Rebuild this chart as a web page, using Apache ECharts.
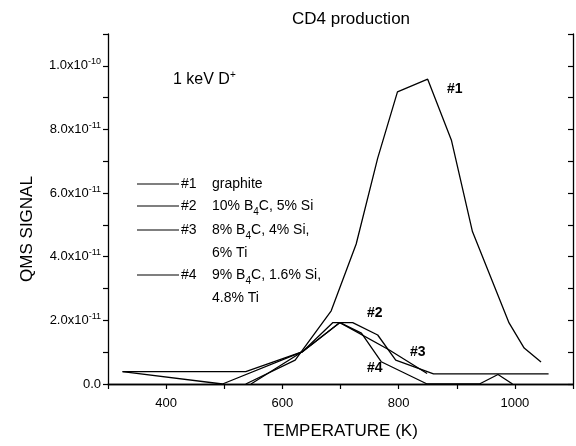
<!DOCTYPE html>
<html>
<head>
<meta charset="utf-8">
<script src="https://cdn.jsdelivr.net/npm/echarts@6/dist/echarts.min.js"></script>
<style>
  html, body { margin: 0; padding: 0; background: #fff; }
  #chart { width: 576px; height: 446px; }
</style>
</head>
<body>
<div id="chart"></div>
<script>
// temperatures (K) and QMS signal
const temp1 = [537, 622, 684, 727, 764, 798, 850, 891, 927, 990, 1016, 1045];
const sig1 = [0, 0.75e-11, 2.3e-11, 4.4e-11, 7.1e-11, 9.18e-11, 9.58e-11, 7.65e-11, 4.79e-11, 1.92e-11, 1.13e-11, 0.69e-11];

const temp2 = [546, 635, 687, 721, 764, 795, 860, 1058];
const sig2 = [0, 1.02e-11, 1.93e-11, 1.93e-11, 1.54e-11, 0.75e-11, 0.32e-11, 0.32e-11];

const temp3 = [325, 497, 635, 699, 784, 849];
const sig3 = [0.39e-11, 0, 1.02e-11, 1.93e-11, 1.07e-11, 0.33e-11];

const temp4 = [325, 537, 635, 699, 736, 770, 849, 939, 971, 996];
const sig4 = [0.39e-11, 0.39e-11, 1.02e-11, 1.93e-11, 1.6e-11, 0.7e-11, 0, 0, 0.3e-11, 0];

const xLabels = [400, 600, 800, 1000];

const FONT = '"Liberation Sans", Arial, sans-serif';

const chart = echarts.init(document.getElementById('chart'));

const pairs = (xs, ys) => xs.map((x, i) => [x, ys[i]]);

const line = (name, xs, ys) => ({
  name: name,
  type: 'line',
  data: pairs(xs, ys),
  showSymbol: false,
  silent: true,
  lineStyle: { color: '#000', width: 1.3 },
  z: 3
});

const yLabel = v => {
  const n = Math.round(v / 1e-11);
  if (n === 0) return '0.0';
  if (n % 2) return '';
  if (n === 10) return '1.0x10{sup|-10}';
  return n.toFixed(1) + 'x10{sup|-11}';
};

// legend text pieces, drawn by hand
const legendRows = [
  { y: 184, tag: '#1', text: 'graphite' },
  { y: 206, tag: '#2', text: '10% B{sub|4}C, 5% Si' },
  { y: 230, tag: '#3', text: '8% B{sub|4}C, 4% Si,' },
  { y: 253, tag: '', text: '6% Ti' },
  { y: 275, tag: '#4', text: '9% B{sub|4}C, 1.6% Si,' },
  { y: 298, tag: '', text: '4.8% Ti' }
];

const richSub = {
  sub: { fontSize: 10, fontFamily: FONT, color: '#000', verticalAlign: 'bottom', lineHeight: 12 }
};

const graphics = [];
legendRows.forEach(r => {
  if (r.tag) {
    graphics.push({
      type: 'line', shape: { x1: 137, y1: r.y, x2: 179, y2: r.y },
      style: { stroke: '#000', lineWidth: 1.2 }
    });
    graphics.push({
      type: 'text', x: 181, y: r.y,
      style: { text: r.tag, font: '14px ' + FONT, fill: '#000', verticalAlign: 'middle' }
    });
  }
  graphics.push({
    type: 'text', x: 212, y: r.y,
    style: {
      text: r.text, font: '14px ' + FONT, fill: '#000', verticalAlign: 'middle',
      lineHeight: 22, rich: richSub
    }
  });
});

graphics.push({
  type: 'text', x: 173, y: 80,
  style: {
    text: '1 keV D{sup|+}', font: '16px ' + FONT, fill: '#000', verticalAlign: 'middle',
    rich: { sup: { fontSize: 10, fontFamily: FONT, color: '#000', padding: [0, 0, 9, 0] } }
  }
});

const tags = [
  { x: 447, y: 89, t: '#1' },
  { x: 367, y: 313, t: '#2' },
  { x: 410, y: 352, t: '#3' },
  { x: 367, y: 368, t: '#4' }
];
tags.forEach(g => {
  graphics.push({
    type: 'text', x: g.x, y: g.y,
    style: { text: g.t, font: 'bold 14px ' + FONT, fill: '#000', verticalAlign: 'middle' }
  });
});

const option = {
  backgroundColor: '#fff',
  animation: false,
  title: {
    text: 'CD4 production',
    left: 346,
    top: 6,
    textAlign: 'center',
    textStyle: { fontFamily: FONT, fontSize: 17, fontWeight: 'normal', color: '#000' }
  },
  grid: { left: 108, top: 34, width: 470.6, height: 350, containLabel: false },
  xAxis: [
    {
      type: 'value',
      min: 300,
      max: 1100,
      interval: 100,
      name: 'TEMPERATURE (K)',
      nameLocation: 'middle',
      nameGap: 39,
      nameTextStyle: { fontFamily: FONT, fontSize: 17, color: '#000' },
      axisLine: { lineStyle: { color: '#000', width: 1.3 } },
      axisTick: { length: 5, lineStyle: { color: '#000', width: 1.2 } },
      axisLabel: {
        margin: 13,
        fontFamily: FONT, fontSize: 13, color: '#000',
        formatter: v => (xLabels.indexOf(v) >= 0 ? String(v) : '')
      },
      splitLine: { show: false }
    },
    {
      type: 'value',
      position: 'top',
      min: 300,
      max: 1100,
      axisLine: { show: true, lineStyle: { color: '#000', width: 1.3 } },
      axisTick: { show: false },
      axisLabel: { show: false },
      splitLine: { show: false }
    }
  ],
  yAxis: [
    {
      type: 'value',
      min: 0,
      max: 1.1e-10,
      interval: 1e-11,
      name: 'QMS SIGNAL',
      nameLocation: 'middle',
      nameGap: 72,
      nameTextStyle: { fontFamily: FONT, fontSize: 17, color: '#000', padding: [0, 40, 0, 0] },
      axisLine: { show: true, lineStyle: { color: '#000', width: 1.3 } },
      axisTick: { show: true, length: 5, lineStyle: { color: '#000', width: 1.2 } },
      axisLabel: {
        margin: 7,
        fontFamily: FONT, fontSize: 13, color: '#000',
        formatter: yLabel,
        rich: { sup: { fontSize: 9, fontFamily: FONT, color: '#000', padding: [0, 0, 8, 0] } }
      },
      splitLine: { show: false }
    },
    {
      type: 'value',
      position: 'right',
      min: 0,
      max: 1.1e-10,
      interval: 1e-11,
      axisLine: { show: true, lineStyle: { color: '#000', width: 1.3 } },
      axisTick: { show: true, inside: true, length: 5, lineStyle: { color: '#000', width: 1.2 } },
      axisLabel: { show: false },
      splitLine: { show: false }
    }
  ],
  series: [
    line('#1', temp1, sig1),
    line('#2', temp2, sig2),
    line('#3', temp3, sig3),
    line('#4', temp4, sig4)
  ],
  graphic: graphics
};

chart.setOption(option);
</script>
</body>
</html>
